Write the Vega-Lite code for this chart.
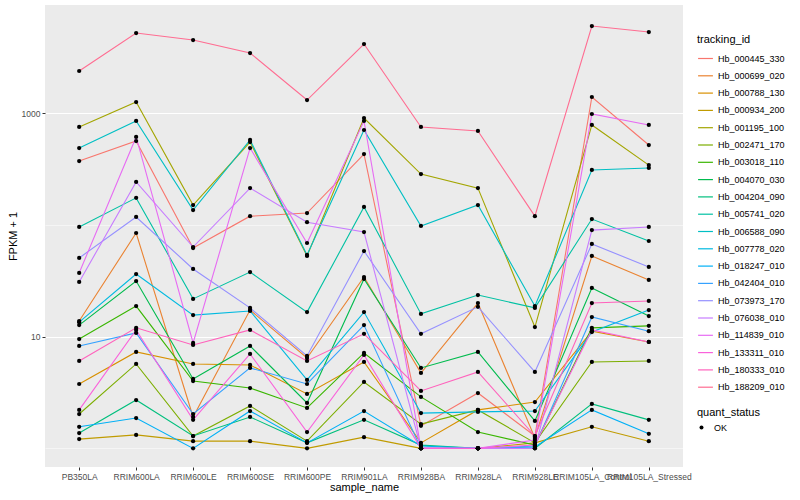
{
"$schema": "https://vega.github.io/schema/vega-lite/v6.json",
"width": 638, "height": 462,
"autosize": {"type": "none"},
"padding": {"left": 45, "top": 5, "right": 117, "bottom": 33},
"background": "white",
"config": {
  "view": {"fill": "#EBEBEB", "stroke": null},
  "font": "Liberation Sans",
  "axis": {"domain": false, "gridColor": "white", "tickColor": "#333333", "tickSize": 3, "labelColor": "#4D4D4D", "labelFontSize": 8.5, "titleFontSize": 11, "titleFontWeight": "normal", "titleColor": "black", "labelPadding": 2},
  "legend": {"titleFontSize": 11, "titleFontWeight": "normal", "titleColor": "black", "labelFontSize": 9, "labelColor": "black"}
},
"datasets": {"d": [
{"tracking_id":"Hb_000445_330","sample_name":"PB350LA","fpkm":374,"quant_status":"OK"},
{"tracking_id":"Hb_000445_330","sample_name":"RRIM600LA","fpkm":565,"quant_status":"OK"},
{"tracking_id":"Hb_000445_330","sample_name":"RRIM600LE","fpkm":62.2,"quant_status":"OK"},
{"tracking_id":"Hb_000445_330","sample_name":"RRIM600SE","fpkm":120,"quant_status":"OK"},
{"tracking_id":"Hb_000445_330","sample_name":"RRIM600PE","fpkm":128,"quant_status":"OK"},
{"tracking_id":"Hb_000445_330","sample_name":"RRIM901LA","fpkm":432,"quant_status":"OK"},
{"tracking_id":"Hb_000445_330","sample_name":"RRIM928BA","fpkm":1.59,"quant_status":"OK"},
{"tracking_id":"Hb_000445_330","sample_name":"RRIM928LA","fpkm":3.13,"quant_status":"OK"},
{"tracking_id":"Hb_000445_330","sample_name":"RRIM928LE","fpkm":1.29,"quant_status":"OK"},
{"tracking_id":"Hb_000445_330","sample_name":"RRIM105LA_Control","fpkm":1400,"quant_status":"OK"},
{"tracking_id":"Hb_000445_330","sample_name":"RRIM105LA_Stressed","fpkm":520,"quant_status":"OK"},
{"tracking_id":"Hb_000699_020","sample_name":"PB350LA","fpkm":13.8,"quant_status":"OK"},
{"tracking_id":"Hb_000699_020","sample_name":"RRIM600LA","fpkm":84.8,"quant_status":"OK"},
{"tracking_id":"Hb_000699_020","sample_name":"RRIM600LE","fpkm":1.91,"quant_status":"OK"},
{"tracking_id":"Hb_000699_020","sample_name":"RRIM600SE","fpkm":17.3,"quant_status":"OK"},
{"tracking_id":"Hb_000699_020","sample_name":"RRIM600PE","fpkm":6.45,"quant_status":"OK"},
{"tracking_id":"Hb_000699_020","sample_name":"RRIM901LA","fpkm":34.2,"quant_status":"OK"},
{"tracking_id":"Hb_000699_020","sample_name":"RRIM928BA","fpkm":4.73,"quant_status":"OK"},
{"tracking_id":"Hb_000699_020","sample_name":"RRIM928LA","fpkm":20.0,"quant_status":"OK"},
{"tracking_id":"Hb_000699_020","sample_name":"RRIM928LE","fpkm":1.24,"quant_status":"OK"},
{"tracking_id":"Hb_000699_020","sample_name":"RRIM105LA_Control","fpkm":52.8,"quant_status":"OK"},
{"tracking_id":"Hb_000699_020","sample_name":"RRIM105LA_Stressed","fpkm":32.2,"quant_status":"OK"},
{"tracking_id":"Hb_000788_130","sample_name":"PB350LA","fpkm":3.77,"quant_status":"OK"},
{"tracking_id":"Hb_000788_130","sample_name":"RRIM600LA","fpkm":7.30,"quant_status":"OK"},
{"tracking_id":"Hb_000788_130","sample_name":"RRIM600LE","fpkm":5.70,"quant_status":"OK"},
{"tracking_id":"Hb_000788_130","sample_name":"RRIM600SE","fpkm":5.58,"quant_status":"OK"},
{"tracking_id":"Hb_000788_130","sample_name":"RRIM600PE","fpkm":3.07,"quant_status":"OK"},
{"tracking_id":"Hb_000788_130","sample_name":"RRIM901LA","fpkm":5.94,"quant_status":"OK"},
{"tracking_id":"Hb_000788_130","sample_name":"RRIM928BA","fpkm":1.12,"quant_status":"OK"},
{"tracking_id":"Hb_000788_130","sample_name":"RRIM928LA","fpkm":2.21,"quant_status":"OK"},
{"tracking_id":"Hb_000788_130","sample_name":"RRIM928LE","fpkm":2.60,"quant_status":"OK"},
{"tracking_id":"Hb_000788_130","sample_name":"RRIM105LA_Control","fpkm":11.2,"quant_status":"OK"},
{"tracking_id":"Hb_000788_130","sample_name":"RRIM105LA_Stressed","fpkm":8.97,"quant_status":"OK"},
{"tracking_id":"Hb_000934_200","sample_name":"PB350LA","fpkm":1.21,"quant_status":"OK"},
{"tracking_id":"Hb_000934_200","sample_name":"RRIM600LA","fpkm":1.32,"quant_status":"OK"},
{"tracking_id":"Hb_000934_200","sample_name":"RRIM600LE","fpkm":1.16,"quant_status":"OK"},
{"tracking_id":"Hb_000934_200","sample_name":"RRIM600SE","fpkm":1.16,"quant_status":"OK"},
{"tracking_id":"Hb_000934_200","sample_name":"RRIM600PE","fpkm":1.0,"quant_status":"OK"},
{"tracking_id":"Hb_000934_200","sample_name":"RRIM901LA","fpkm":1.26,"quant_status":"OK"},
{"tracking_id":"Hb_000934_200","sample_name":"RRIM928BA","fpkm":1.0,"quant_status":"OK"},
{"tracking_id":"Hb_000934_200","sample_name":"RRIM928LA","fpkm":1.0,"quant_status":"OK"},
{"tracking_id":"Hb_000934_200","sample_name":"RRIM928LE","fpkm":1.12,"quant_status":"OK"},
{"tracking_id":"Hb_000934_200","sample_name":"RRIM105LA_Control","fpkm":1.56,"quant_status":"OK"},
{"tracking_id":"Hb_000934_200","sample_name":"RRIM105LA_Stressed","fpkm":1.16,"quant_status":"OK"},
{"tracking_id":"Hb_001195_100","sample_name":"PB350LA","fpkm":755,"quant_status":"OK"},
{"tracking_id":"Hb_001195_100","sample_name":"RRIM600LA","fpkm":1262,"quant_status":"OK"},
{"tracking_id":"Hb_001195_100","sample_name":"RRIM600LE","fpkm":151,"quant_status":"OK"},
{"tracking_id":"Hb_001195_100","sample_name":"RRIM600SE","fpkm":553,"quant_status":"OK"},
{"tracking_id":"Hb_001195_100","sample_name":"RRIM600PE","fpkm":52.8,"quant_status":"OK"},
{"tracking_id":"Hb_001195_100","sample_name":"RRIM901LA","fpkm":908,"quant_status":"OK"},
{"tracking_id":"Hb_001195_100","sample_name":"RRIM928BA","fpkm":286,"quant_status":"OK"},
{"tracking_id":"Hb_001195_100","sample_name":"RRIM928LA","fpkm":214,"quant_status":"OK"},
{"tracking_id":"Hb_001195_100","sample_name":"RRIM928LE","fpkm":12.2,"quant_status":"OK"},
{"tracking_id":"Hb_001195_100","sample_name":"RRIM105LA_Control","fpkm":787,"quant_status":"OK"},
{"tracking_id":"Hb_001195_100","sample_name":"RRIM105LA_Stressed","fpkm":344,"quant_status":"OK"},
{"tracking_id":"Hb_002471_170","sample_name":"PB350LA","fpkm":2.03,"quant_status":"OK"},
{"tracking_id":"Hb_002471_170","sample_name":"RRIM600LA","fpkm":5.70,"quant_status":"OK"},
{"tracking_id":"Hb_002471_170","sample_name":"RRIM600LE","fpkm":1.29,"quant_status":"OK"},
{"tracking_id":"Hb_002471_170","sample_name":"RRIM600SE","fpkm":2.40,"quant_status":"OK"},
{"tracking_id":"Hb_002471_170","sample_name":"RRIM600PE","fpkm":1.16,"quant_status":"OK"},
{"tracking_id":"Hb_002471_170","sample_name":"RRIM901LA","fpkm":3.93,"quant_status":"OK"},
{"tracking_id":"Hb_002471_170","sample_name":"RRIM928BA","fpkm":1.65,"quant_status":"OK"},
{"tracking_id":"Hb_002471_170","sample_name":"RRIM928LA","fpkm":2.21,"quant_status":"OK"},
{"tracking_id":"Hb_002471_170","sample_name":"RRIM928LE","fpkm":1.12,"quant_status":"OK"},
{"tracking_id":"Hb_002471_170","sample_name":"RRIM105LA_Control","fpkm":5.94,"quant_status":"OK"},
{"tracking_id":"Hb_002471_170","sample_name":"RRIM105LA_Stressed","fpkm":6.06,"quant_status":"OK"},
{"tracking_id":"Hb_003018_110","sample_name":"PB350LA","fpkm":9.53,"quant_status":"OK"},
{"tracking_id":"Hb_003018_110","sample_name":"RRIM600LA","fpkm":18.8,"quant_status":"OK"},
{"tracking_id":"Hb_003018_110","sample_name":"RRIM600LE","fpkm":4.01,"quant_status":"OK"},
{"tracking_id":"Hb_003018_110","sample_name":"RRIM600SE","fpkm":3.47,"quant_status":"OK"},
{"tracking_id":"Hb_003018_110","sample_name":"RRIM600PE","fpkm":2.30,"quant_status":"OK"},
{"tracking_id":"Hb_003018_110","sample_name":"RRIM901LA","fpkm":7.15,"quant_status":"OK"},
{"tracking_id":"Hb_003018_110","sample_name":"RRIM928BA","fpkm":2.89,"quant_status":"OK"},
{"tracking_id":"Hb_003018_110","sample_name":"RRIM928LA","fpkm":1.40,"quant_status":"OK"},
{"tracking_id":"Hb_003018_110","sample_name":"RRIM928LE","fpkm":1.07,"quant_status":"OK"},
{"tracking_id":"Hb_003018_110","sample_name":"RRIM105LA_Control","fpkm":12.0,"quant_status":"OK"},
{"tracking_id":"Hb_003018_110","sample_name":"RRIM105LA_Stressed","fpkm":12.5,"quant_status":"OK"},
{"tracking_id":"Hb_004070_030","sample_name":"PB350LA","fpkm":12.7,"quant_status":"OK"},
{"tracking_id":"Hb_004070_030","sample_name":"RRIM600LA","fpkm":31.5,"quant_status":"OK"},
{"tracking_id":"Hb_004070_030","sample_name":"RRIM600LE","fpkm":4.18,"quant_status":"OK"},
{"tracking_id":"Hb_004070_030","sample_name":"RRIM600SE","fpkm":8.26,"quant_status":"OK"},
{"tracking_id":"Hb_004070_030","sample_name":"RRIM600PE","fpkm":2.55,"quant_status":"OK"},
{"tracking_id":"Hb_004070_030","sample_name":"RRIM901LA","fpkm":32.9,"quant_status":"OK"},
{"tracking_id":"Hb_004070_030","sample_name":"RRIM928BA","fpkm":5.25,"quant_status":"OK"},
{"tracking_id":"Hb_004070_030","sample_name":"RRIM928LA","fpkm":7.30,"quant_status":"OK"},
{"tracking_id":"Hb_004070_030","sample_name":"RRIM928LE","fpkm":1.76,"quant_status":"OK"},
{"tracking_id":"Hb_004070_030","sample_name":"RRIM105LA_Control","fpkm":27.3,"quant_status":"OK"},
{"tracking_id":"Hb_004070_030","sample_name":"RRIM105LA_Stressed","fpkm":15.3,"quant_status":"OK"},
{"tracking_id":"Hb_004204_090","sample_name":"PB350LA","fpkm":1.37,"quant_status":"OK"},
{"tracking_id":"Hb_004204_090","sample_name":"RRIM600LA","fpkm":2.71,"quant_status":"OK"},
{"tracking_id":"Hb_004204_090","sample_name":"RRIM600LE","fpkm":1.29,"quant_status":"OK"},
{"tracking_id":"Hb_004204_090","sample_name":"RRIM600SE","fpkm":1.91,"quant_status":"OK"},
{"tracking_id":"Hb_004204_090","sample_name":"RRIM600PE","fpkm":1.12,"quant_status":"OK"},
{"tracking_id":"Hb_004204_090","sample_name":"RRIM901LA","fpkm":1.80,"quant_status":"OK"},
{"tracking_id":"Hb_004204_090","sample_name":"RRIM928BA","fpkm":1.07,"quant_status":"OK"},
{"tracking_id":"Hb_004204_090","sample_name":"RRIM928LA","fpkm":1.0,"quant_status":"OK"},
{"tracking_id":"Hb_004204_090","sample_name":"RRIM928LE","fpkm":1.0,"quant_status":"OK"},
{"tracking_id":"Hb_004204_090","sample_name":"RRIM105LA_Control","fpkm":2.50,"quant_status":"OK"},
{"tracking_id":"Hb_004204_090","sample_name":"RRIM105LA_Stressed","fpkm":1.80,"quant_status":"OK"},
{"tracking_id":"Hb_005741_020","sample_name":"PB350LA","fpkm":96,"quant_status":"OK"},
{"tracking_id":"Hb_005741_020","sample_name":"RRIM600LA","fpkm":175,"quant_status":"OK"},
{"tracking_id":"Hb_005741_020","sample_name":"RRIM600LE","fpkm":21.8,"quant_status":"OK"},
{"tracking_id":"Hb_005741_020","sample_name":"RRIM600SE","fpkm":37.9,"quant_status":"OK"},
{"tracking_id":"Hb_005741_020","sample_name":"RRIM600PE","fpkm":16.6,"quant_status":"OK"},
{"tracking_id":"Hb_005741_020","sample_name":"RRIM901LA","fpkm":145,"quant_status":"OK"},
{"tracking_id":"Hb_005741_020","sample_name":"RRIM928BA","fpkm":16.0,"quant_status":"OK"},
{"tracking_id":"Hb_005741_020","sample_name":"RRIM928LA","fpkm":23.6,"quant_status":"OK"},
{"tracking_id":"Hb_005741_020","sample_name":"RRIM928LE","fpkm":18.1,"quant_status":"OK"},
{"tracking_id":"Hb_005741_020","sample_name":"RRIM105LA_Control","fpkm":113,"quant_status":"OK"},
{"tracking_id":"Hb_005741_020","sample_name":"RRIM105LA_Stressed","fpkm":71.9,"quant_status":"OK"},
{"tracking_id":"Hb_006588_090","sample_name":"PB350LA","fpkm":489,"quant_status":"OK"},
{"tracking_id":"Hb_006588_090","sample_name":"RRIM600LA","fpkm":854,"quant_status":"OK"},
{"tracking_id":"Hb_006588_090","sample_name":"RRIM600LE","fpkm":136,"quant_status":"OK"},
{"tracking_id":"Hb_006588_090","sample_name":"RRIM600SE","fpkm":577,"quant_status":"OK"},
{"tracking_id":"Hb_006588_090","sample_name":"RRIM600PE","fpkm":53.9,"quant_status":"OK"},
{"tracking_id":"Hb_006588_090","sample_name":"RRIM901LA","fpkm":709,"quant_status":"OK"},
{"tracking_id":"Hb_006588_090","sample_name":"RRIM928BA","fpkm":98,"quant_status":"OK"},
{"tracking_id":"Hb_006588_090","sample_name":"RRIM928LA","fpkm":151,"quant_status":"OK"},
{"tracking_id":"Hb_006588_090","sample_name":"RRIM928LE","fpkm":18.8,"quant_status":"OK"},
{"tracking_id":"Hb_006588_090","sample_name":"RRIM105LA_Control","fpkm":311,"quant_status":"OK"},
{"tracking_id":"Hb_006588_090","sample_name":"RRIM105LA_Stressed","fpkm":324,"quant_status":"OK"},
{"tracking_id":"Hb_007778_020","sample_name":"PB350LA","fpkm":13.5,"quant_status":"OK"},
{"tracking_id":"Hb_007778_020","sample_name":"RRIM600LA","fpkm":36.4,"quant_status":"OK"},
{"tracking_id":"Hb_007778_020","sample_name":"RRIM600LE","fpkm":15.6,"quant_status":"OK"},
{"tracking_id":"Hb_007778_020","sample_name":"RRIM600SE","fpkm":17.0,"quant_status":"OK"},
{"tracking_id":"Hb_007778_020","sample_name":"RRIM600PE","fpkm":4.10,"quant_status":"OK"},
{"tracking_id":"Hb_007778_020","sample_name":"RRIM901LA","fpkm":16.6,"quant_status":"OK"},
{"tracking_id":"Hb_007778_020","sample_name":"RRIM928BA","fpkm":2.07,"quant_status":"OK"},
{"tracking_id":"Hb_007778_020","sample_name":"RRIM928LA","fpkm":2.12,"quant_status":"OK"},
{"tracking_id":"Hb_007778_020","sample_name":"RRIM928LE","fpkm":2.16,"quant_status":"OK"},
{"tracking_id":"Hb_007778_020","sample_name":"RRIM105LA_Control","fpkm":11.0,"quant_status":"OK"},
{"tracking_id":"Hb_007778_020","sample_name":"RRIM105LA_Stressed","fpkm":17.3,"quant_status":"OK"},
{"tracking_id":"Hb_018247_010","sample_name":"PB350LA","fpkm":1.56,"quant_status":"OK"},
{"tracking_id":"Hb_018247_010","sample_name":"RRIM600LA","fpkm":1.87,"quant_status":"OK"},
{"tracking_id":"Hb_018247_010","sample_name":"RRIM600LE","fpkm":1.0,"quant_status":"OK"},
{"tracking_id":"Hb_018247_010","sample_name":"RRIM600SE","fpkm":2.16,"quant_status":"OK"},
{"tracking_id":"Hb_018247_010","sample_name":"RRIM600PE","fpkm":1.12,"quant_status":"OK"},
{"tracking_id":"Hb_018247_010","sample_name":"RRIM901LA","fpkm":2.16,"quant_status":"OK"},
{"tracking_id":"Hb_018247_010","sample_name":"RRIM928BA","fpkm":1.05,"quant_status":"OK"},
{"tracking_id":"Hb_018247_010","sample_name":"RRIM928LA","fpkm":1.0,"quant_status":"OK"},
{"tracking_id":"Hb_018247_010","sample_name":"RRIM928LE","fpkm":1.03,"quant_status":"OK"},
{"tracking_id":"Hb_018247_010","sample_name":"RRIM105LA_Control","fpkm":2.21,"quant_status":"OK"},
{"tracking_id":"Hb_018247_010","sample_name":"RRIM105LA_Stressed","fpkm":1.35,"quant_status":"OK"},
{"tracking_id":"Hb_042404_010","sample_name":"PB350LA","fpkm":8.26,"quant_status":"OK"},
{"tracking_id":"Hb_042404_010","sample_name":"RRIM600LA","fpkm":10.8,"quant_status":"OK"},
{"tracking_id":"Hb_042404_010","sample_name":"RRIM600LE","fpkm":2.03,"quant_status":"OK"},
{"tracking_id":"Hb_042404_010","sample_name":"RRIM600SE","fpkm":5.25,"quant_status":"OK"},
{"tracking_id":"Hb_042404_010","sample_name":"RRIM600PE","fpkm":3.77,"quant_status":"OK"},
{"tracking_id":"Hb_042404_010","sample_name":"RRIM901LA","fpkm":12.7,"quant_status":"OK"},
{"tracking_id":"Hb_042404_010","sample_name":"RRIM928BA","fpkm":1.0,"quant_status":"OK"},
{"tracking_id":"Hb_042404_010","sample_name":"RRIM928LA","fpkm":1.0,"quant_status":"OK"},
{"tracking_id":"Hb_042404_010","sample_name":"RRIM928LE","fpkm":1.05,"quant_status":"OK"},
{"tracking_id":"Hb_042404_010","sample_name":"RRIM105LA_Control","fpkm":15.0,"quant_status":"OK"},
{"tracking_id":"Hb_042404_010","sample_name":"RRIM105LA_Stressed","fpkm":11.2,"quant_status":"OK"},
{"tracking_id":"Hb_073973_170","sample_name":"PB350LA","fpkm":50.7,"quant_status":"OK"},
{"tracking_id":"Hb_073973_170","sample_name":"RRIM600LA","fpkm":118,"quant_status":"OK"},
{"tracking_id":"Hb_073973_170","sample_name":"RRIM600LE","fpkm":40.4,"quant_status":"OK"},
{"tracking_id":"Hb_073973_170","sample_name":"RRIM600SE","fpkm":18.1,"quant_status":"OK"},
{"tracking_id":"Hb_073973_170","sample_name":"RRIM600PE","fpkm":6.72,"quant_status":"OK"},
{"tracking_id":"Hb_073973_170","sample_name":"RRIM901LA","fpkm":58.5,"quant_status":"OK"},
{"tracking_id":"Hb_073973_170","sample_name":"RRIM928BA","fpkm":10.6,"quant_status":"OK"},
{"tracking_id":"Hb_073973_170","sample_name":"RRIM928LA","fpkm":18.5,"quant_status":"OK"},
{"tracking_id":"Hb_073973_170","sample_name":"RRIM928LE","fpkm":4.83,"quant_status":"OK"},
{"tracking_id":"Hb_073973_170","sample_name":"RRIM105LA_Control","fpkm":67.6,"quant_status":"OK"},
{"tracking_id":"Hb_073973_170","sample_name":"RRIM105LA_Stressed","fpkm":42.1,"quant_status":"OK"},
{"tracking_id":"Hb_076038_010","sample_name":"PB350LA","fpkm":30.9,"quant_status":"OK"},
{"tracking_id":"Hb_076038_010","sample_name":"RRIM600LA","fpkm":243,"quant_status":"OK"},
{"tracking_id":"Hb_076038_010","sample_name":"RRIM600LE","fpkm":63.5,"quant_status":"OK"},
{"tracking_id":"Hb_076038_010","sample_name":"RRIM600SE","fpkm":214,"quant_status":"OK"},
{"tracking_id":"Hb_076038_010","sample_name":"RRIM600PE","fpkm":106,"quant_status":"OK"},
{"tracking_id":"Hb_076038_010","sample_name":"RRIM901LA","fpkm":86.5,"quant_status":"OK"},
{"tracking_id":"Hb_076038_010","sample_name":"RRIM928BA","fpkm":1.0,"quant_status":"OK"},
{"tracking_id":"Hb_076038_010","sample_name":"RRIM928LA","fpkm":1.0,"quant_status":"OK"},
{"tracking_id":"Hb_076038_010","sample_name":"RRIM928LE","fpkm":1.0,"quant_status":"OK"},
{"tracking_id":"Hb_076038_010","sample_name":"RRIM105LA_Control","fpkm":90,"quant_status":"OK"},
{"tracking_id":"Hb_076038_010","sample_name":"RRIM105LA_Stressed","fpkm":96,"quant_status":"OK"},
{"tracking_id":"Hb_114839_010","sample_name":"PB350LA","fpkm":37.2,"quant_status":"OK"},
{"tracking_id":"Hb_114839_010","sample_name":"RRIM600LA","fpkm":614,"quant_status":"OK"},
{"tracking_id":"Hb_114839_010","sample_name":"RRIM600LE","fpkm":8.78,"quant_status":"OK"},
{"tracking_id":"Hb_114839_010","sample_name":"RRIM600SE","fpkm":489,"quant_status":"OK"},
{"tracking_id":"Hb_114839_010","sample_name":"RRIM600PE","fpkm":69.0,"quant_status":"OK"},
{"tracking_id":"Hb_114839_010","sample_name":"RRIM901LA","fpkm":854,"quant_status":"OK"},
{"tracking_id":"Hb_114839_010","sample_name":"RRIM928BA","fpkm":1.0,"quant_status":"OK"},
{"tracking_id":"Hb_114839_010","sample_name":"RRIM928LA","fpkm":1.0,"quant_status":"OK"},
{"tracking_id":"Hb_114839_010","sample_name":"RRIM928LE","fpkm":1.19,"quant_status":"OK"},
{"tracking_id":"Hb_114839_010","sample_name":"RRIM105LA_Control","fpkm":986,"quant_status":"OK"},
{"tracking_id":"Hb_114839_010","sample_name":"RRIM105LA_Stressed","fpkm":787,"quant_status":"OK"},
{"tracking_id":"Hb_133311_010","sample_name":"PB350LA","fpkm":2.21,"quant_status":"OK"},
{"tracking_id":"Hb_133311_010","sample_name":"RRIM600LA","fpkm":11.5,"quant_status":"OK"},
{"tracking_id":"Hb_133311_010","sample_name":"RRIM600LE","fpkm":1.80,"quant_status":"OK"},
{"tracking_id":"Hb_133311_010","sample_name":"RRIM600SE","fpkm":7.00,"quant_status":"OK"},
{"tracking_id":"Hb_133311_010","sample_name":"RRIM600PE","fpkm":1.40,"quant_status":"OK"},
{"tracking_id":"Hb_133311_010","sample_name":"RRIM901LA","fpkm":6.86,"quant_status":"OK"},
{"tracking_id":"Hb_133311_010","sample_name":"RRIM928BA","fpkm":1.0,"quant_status":"OK"},
{"tracking_id":"Hb_133311_010","sample_name":"RRIM928LA","fpkm":1.0,"quant_status":"OK"},
{"tracking_id":"Hb_133311_010","sample_name":"RRIM928LE","fpkm":1.07,"quant_status":"OK"},
{"tracking_id":"Hb_133311_010","sample_name":"RRIM105LA_Control","fpkm":11.5,"quant_status":"OK"},
{"tracking_id":"Hb_133311_010","sample_name":"RRIM105LA_Stressed","fpkm":8.97,"quant_status":"OK"},
{"tracking_id":"Hb_180333_010","sample_name":"PB350LA","fpkm":6.06,"quant_status":"OK"},
{"tracking_id":"Hb_180333_010","sample_name":"RRIM600LA","fpkm":12.0,"quant_status":"OK"},
{"tracking_id":"Hb_180333_010","sample_name":"RRIM600LE","fpkm":8.43,"quant_status":"OK"},
{"tracking_id":"Hb_180333_010","sample_name":"RRIM600SE","fpkm":11.5,"quant_status":"OK"},
{"tracking_id":"Hb_180333_010","sample_name":"RRIM600PE","fpkm":6.06,"quant_status":"OK"},
{"tracking_id":"Hb_180333_010","sample_name":"RRIM901LA","fpkm":10.6,"quant_status":"OK"},
{"tracking_id":"Hb_180333_010","sample_name":"RRIM928BA","fpkm":3.27,"quant_status":"OK"},
{"tracking_id":"Hb_180333_010","sample_name":"RRIM928LA","fpkm":4.83,"quant_status":"OK"},
{"tracking_id":"Hb_180333_010","sample_name":"RRIM928LE","fpkm":1.29,"quant_status":"OK"},
{"tracking_id":"Hb_180333_010","sample_name":"RRIM105LA_Control","fpkm":20.0,"quant_status":"OK"},
{"tracking_id":"Hb_180333_010","sample_name":"RRIM105LA_Stressed","fpkm":20.9,"quant_status":"OK"},
{"tracking_id":"Hb_188209_010","sample_name":"PB350LA","fpkm":2393,"quant_status":"OK"},
{"tracking_id":"Hb_188209_010","sample_name":"RRIM600LA","fpkm":5236,"quant_status":"OK"},
{"tracking_id":"Hb_188209_010","sample_name":"RRIM600LE","fpkm":4530,"quant_status":"OK"},
{"tracking_id":"Hb_188209_010","sample_name":"RRIM600SE","fpkm":3467,"quant_status":"OK"},
{"tracking_id":"Hb_188209_010","sample_name":"RRIM600PE","fpkm":1315,"quant_status":"OK"},
{"tracking_id":"Hb_188209_010","sample_name":"RRIM901LA","fpkm":4170,"quant_status":"OK"},
{"tracking_id":"Hb_188209_010","sample_name":"RRIM928BA","fpkm":755,"quant_status":"OK"},
{"tracking_id":"Hb_188209_010","sample_name":"RRIM928LA","fpkm":695,"quant_status":"OK"},
{"tracking_id":"Hb_188209_010","sample_name":"RRIM928LE","fpkm":120,"quant_status":"OK"},
{"tracking_id":"Hb_188209_010","sample_name":"RRIM105LA_Control","fpkm":6050,"quant_status":"OK"},
{"tracking_id":"Hb_188209_010","sample_name":"RRIM105LA_Stressed","fpkm":5345,"quant_status":"OK"}
]},
"data": {"name": "d"},
"encoding": {
  "x": {"field": "sample_name", "type": "nominal",
        "sort": ["PB350LA","RRIM600LA","RRIM600LE","RRIM600SE","RRIM600PE","RRIM901LA","RRIM928BA","RRIM928LA","RRIM928LE","RRIM105LA_Control","RRIM105LA_Stressed"],
        "scale": {"type": "point", "padding": 0.6},
        "axis": {"labelAngle": 0, "title": "sample_name", "gridWidth": 1.1, "titlePadding": 1}},
  "y": {"field": "fpkm", "type": "quantitative",
        "scale": {"type": "log", "domain": [0.681, 9330], "nice": false},
        "axis": {"title": "FPKM + 1", "values": [1, 10, 100, 1000],
                 "labelExpr": "(datum.value == 10 || datum.value == 1000) ? format(datum.value, 'd') : ''",
                 "gridWidth": {"condition": {"test": "datum.value == 10 || datum.value == 1000", "value": 1.1}, "value": 0.5},
                 "tickOpacity": {"condition": {"test": "datum.value == 10 || datum.value == 1000", "value": 1}, "value": 0},
                 "titlePadding": 3}}
},
"layer": [
  {"mark": {"type": "line", "strokeWidth": 1.1},
   "encoding": {"color": {"field": "tracking_id", "type": "nominal",
      "scale": {"range": ["#F8766D","#EA8331","#D89000","#C09B00","#A3A500","#7CAE00","#39B600","#00BB4E","#00BF7D","#00C1A3","#00BFC4","#00BAE0","#00B0F6","#35A2FF","#9590FF","#C77CFF","#E76BF3","#FA62DB","#FF62BC","#FF6C91"]},
      "legend": {"title": "tracking_id", "orient": "none", "legendX": 652, "legendY": 29, "symbolType": "stroke", "symbolStrokeWidth": 1.2, "symbolSize": 220, "rowPadding": 3.3, "labelOffset": 4}}}},
  {"mark": {"type": "point", "filled": true, "color": "black", "size": 18, "opacity": 1},
   "encoding": {"shape": {"field": "quant_status", "type": "nominal", "scale": {"range": ["circle"]},
      "legend": {"title": "quant_status", "orient": "none", "legendX": 652, "legendY": 402, "symbolFillColor": "black", "symbolStrokeColor": "black", "symbolSize": 16, "labelOffset": 8}}}}
]
}
